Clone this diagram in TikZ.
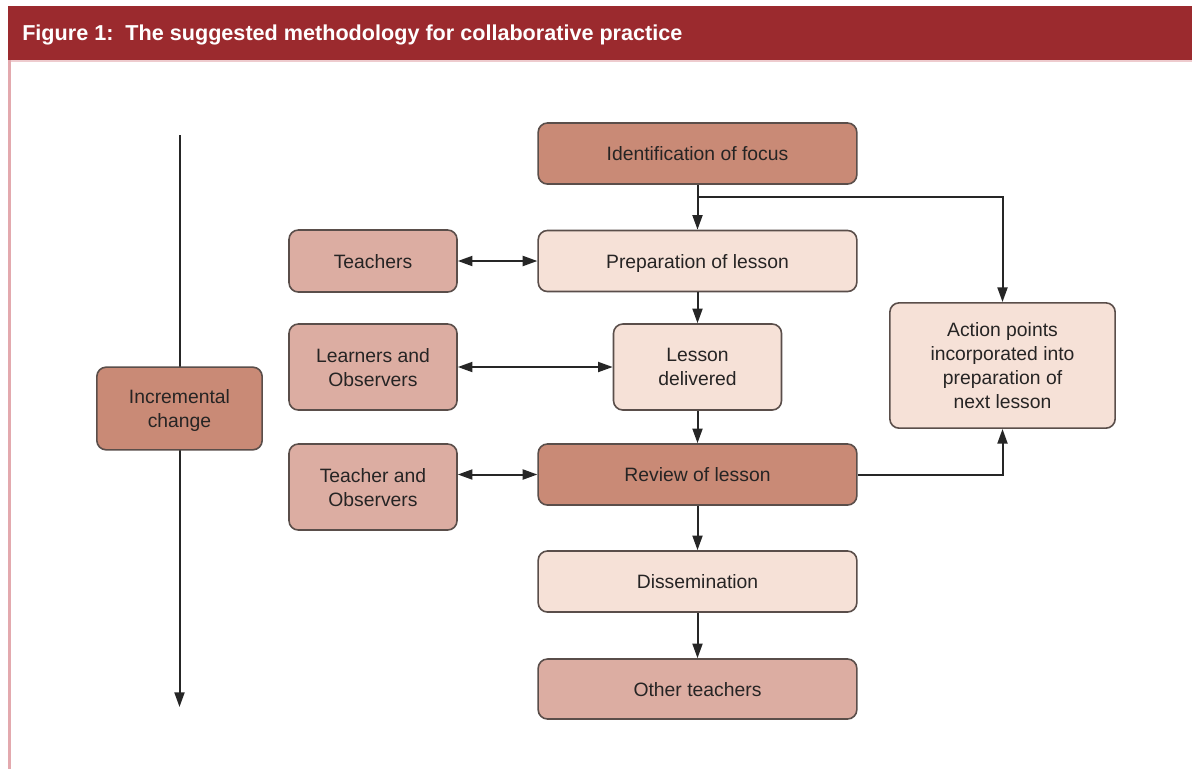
\documentclass[tikz,border=0pt]{standalone}
\usepackage{fontspec}
\setmainfont{Liberation Sans}
\usetikzlibrary{arrows.meta}
\definecolor{bandred}{HTML}{9B2A2E}
\definecolor{edgepink}{HTML}{E3A9AE}
\definecolor{darkfill}{HTML}{C98A76}
\definecolor{midfill}{HTML}{DCADA2}
\definecolor{lightfill}{HTML}{F6E1D7}
\definecolor{boxline}{HTML}{5A4E4A}
\definecolor{inkline}{HTML}{262626}
\definecolor{txt}{HTML}{262424}
\begin{document}
\begin{tikzpicture}[x=0.75pt,y=-0.75pt,
  box/.style={draw=boxline, line width=1.2pt, rounded corners=7pt, align=center,
    inner sep=0pt, text=txt, font=\fontsize{14.5}{18}\selectfont,
    text depth=0pt},
  dark/.style={box, fill=darkfill},
  mid/.style={box, fill=midfill},
  light/.style={box, fill=lightfill},
  arr/.style={draw=inkline, line width=1.5pt, -{Triangle[length=11pt,width=7.5pt]}},
  dbl/.style={draw=inkline, line width=1.5pt, {Triangle[length=11pt,width=7.5pt]}-{Triangle[length=11pt,width=7.5pt]}},
  wide/.style={minimum width=239pt, minimum height=45.8pt},
  narrow/.style={minimum width=126pt}]
\useasboundingbox (0,0) rectangle (1192,769);
\fill[white] (0,0) rectangle (1192,769);
% title band and frame
\fill[bandred] (8,6) rectangle (1192,60);
\draw[edgepink!60, line width=1pt] (8,61) -- (1192,61);
\draw[edgepink, line width=1.6pt] (9.5,60) -- (9.5,769);
\node[anchor=west, text=white, font=\fontsize{16.2}{19}\selectfont\bfseries, inner sep=0pt] (title)
  at (22,35) {Figure 1:\ \ The suggested methodology for collaborative practice};

% time axis
\coordinate (axtop) at (179.5,135);
\coordinate (axbot) at (179.5,707);
\draw[arr] (axtop) -- (axbot);

% boxes
\node[dark, wide] (idf) at (697.5,153.5) {Identification of focus};
\node[light, wide] (prep) at (697.5,261) {Preparation of lesson};
\node[mid, narrow, minimum height=46.5pt] (teach) at (373,261) {Teachers};
\node[mid, narrow, minimum height=64.5pt] (learn) at (373,367) {Learners and\\Observers};
\node[light, narrow, minimum height=64.5pt] (deliv) at (697.5,367) {Lesson\\delivered};
\node[dark, minimum width=124pt, minimum height=62pt] (incr) at (179.5,408.5) {Incremental\\change};
\node[mid, narrow, minimum height=64.5pt] (tobs) at (373,487) {Teacher and\\Observers};
\node[dark, wide] (review) at (697.5,474.5) {Review of lesson};
\node[light, minimum width=169pt, minimum height=94pt] (action) at (1002.5,365.5)
  {Action points\\incorporated into\\preparation of\\next lesson};
\node[light, wide] (diss) at (697.5,581.5) {Dissemination};
\node[mid, wide, minimum height=45pt] (other) at (697.5,689) {Other teachers};

% main flow
\coordinate (br) at (697.5,197);
\draw[arr] (idf.south) -- (prep.north);
\draw[arr] (br) -| (action.north);
\draw[arr] (prep.south) -- (deliv.north);
\draw[arr] (deliv.south) -- (review.north);
\draw[arr] (review.south) -- (diss.north);
\draw[arr] (diss.south) -- (other.north);
\draw[arr] (review.east) -| (action.south);

% participants
\draw[dbl] (teach.east) -- (prep.west);
\draw[dbl] (learn.east) -- (deliv.west);
\draw[dbl] (tobs.east |- review.west) -- (review.west);
\end{tikzpicture}
\end{document}
